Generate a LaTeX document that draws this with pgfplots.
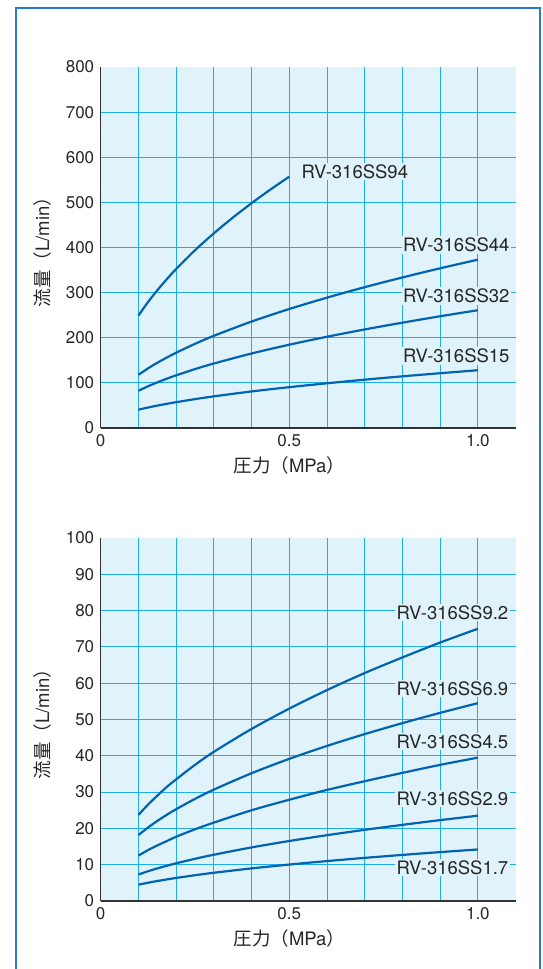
\documentclass[border=0pt]{standalone}
\usepackage{pgfplots}
\pgfplotsset{compat=1.18}
\usepackage{fontspec}
\setmainfont{TeX Gyre Heros}
\newfontfamily\cjk{Noto Sans CJK JP}
\definecolor{bgc}{RGB}{224,242,250}
\definecolor{gridc}{RGB}{30,175,232}
\definecolor{curvec}{RGB}{0,100,178}
\definecolor{framec}{RGB}{40,125,200}
\definecolor{axc}{RGB}{50,50,50}
\tikzset{
  lab/.style={anchor=base west, fill=bgc, inner sep=1.5pt, font=\fontsize{18.5}{21}\selectfont, text=black!85},
}
\pgfplotsset{
  flowaxis/.style={
    scale only axis, width=414.9pt,
    xmin=0, xmax=1.1,
    axis x line*=bottom, axis y line*=left,
    axis line style={axc, line width=1.3pt, -},
    axis background/.style={fill=bgc},
    xtick={0,0.5,1}, xticklabels={0,0.5,1.0},
    minor xtick={0.1,0.2,0.3,0.4,0.5,0.6,0.7,0.8,0.9,1.0},
    major tick length=0pt, minor tick length=0pt,
    grid=minor,
    minor grid style={gridc, line width=1pt},
    /pgf/number format/assume math mode=true,
    tick label style={font=\fontsize{17}{19}\selectfont, text=black!85},
    yticklabel style={xshift=-3pt},
    xticklabel style={yshift=-3pt},
    every axis plot post/.append style={curvec, line width=2.2pt, smooth, mark=none},
    xlabel={{\cjk 圧力（}MPa{\cjk ）}},
    ylabel={{\cjk 流量（}L/min{\cjk ）}},
    label style={font=\fontsize{18.5}{21}\selectfont, text=black!85},
    x label style={at={(axis description cs:0.4545,0)}, anchor=north, yshift=-25pt},
    y label style={at={(axis description cs:-0.1415,0.5)}, anchor=center},
    clip=false,
  },
}
\begin{document}
\begin{tikzpicture}[x=1pt,y=1pt]
\useasboundingbox (0,0) rectangle (543,969);
\draw[framec, line width=2pt] (15.6,-20) rectangle (540.4,961.4);
% top chart
\begin{axis}[flowaxis, at={(100.7pt,541pt)}, anchor=south west, height=361pt,
  ymin=0, ymax=800, ytick={0,100,...,800},
  minor ytick={100,200,...,700}]
\addplot coordinates {(0.1,249.1) (0.125,278.5) (0.15,305.1) (0.175,329.5) (0.2,352.3) (0.25,393.9) (0.3,431.4) (0.35,466.0) (0.4,498.2) (0.45,528.4) (0.5,557)};
\addplot coordinates {(0.1,117.9) (0.125,131.9) (0.15,144.5) (0.175,156.0) (0.2,166.8) (0.25,186.5) (0.3,204.3) (0.4,235.9) (0.5,263.7) (0.6,288.9) (0.7,312.1) (0.8,333.6) (0.9,353.9) (1.0,373)};
\addplot coordinates {(0.1,82.5) (0.125,92.3) (0.15,101.1) (0.175,109.2) (0.2,116.7) (0.25,130.5) (0.3,142.9) (0.4,165.1) (0.5,184.6) (0.6,202.2) (0.7,218.4) (0.8,233.4) (0.9,247.6) (1.0,261)};
\addplot coordinates {(0.1,40.5) (0.125,45.3) (0.15,49.6) (0.175,53.5) (0.2,57.2) (0.25,64) (0.3,70.1) (0.4,81) (0.5,90.5) (0.6,99.1) (0.7,107.1) (0.8,114.5) (0.9,121.4) (1.0,128)};
\node[lab] at (axis cs:0.528,553) {RV-316SS94};
\node[lab] at (axis cs:0.797,390.7) {RV-316SS44};
\node[lab] at (axis cs:0.797,277.7) {RV-316SS32};
\node[lab] at (axis cs:0.797,144.7) {RV-316SS15};
\end{axis}
% bottom chart
\begin{axis}[flowaxis, at={(100.7pt,68pt)}, anchor=south west, height=363pt,
  ymin=0, ymax=100, ytick={0,10,...,100},
  minor ytick={10,20,...,90}]
\addplot coordinates {(0.1,23.7) (0.125,26.5) (0.15,29.0) (0.175,31.4) (0.2,33.5) (0.25,37.5) (0.3,41.1) (0.4,47.4) (0.5,53.0) (0.6,58.1) (0.7,62.8) (0.8,67.1) (0.9,71.2) (1.0,75)};
\addplot coordinates {(0.1,18.17) (0.125,20.21) (0.15,22.05) (0.175,23.73) (0.2,25.29) (0.25,28.13) (0.3,30.69) (0.4,35.2) (0.5,39.16) (0.6,42.72) (0.7,45.98) (0.8,49.0) (0.9,51.83) (1.0,54.5)};
\addplot coordinates {(0.1,12.5) (0.125,14.0) (0.15,15.3) (0.175,16.5) (0.2,17.7) (0.25,19.75) (0.3,21.6) (0.4,25.0) (0.5,27.9) (0.6,30.6) (0.7,33.0) (0.8,35.3) (0.9,37.5) (1.0,39.5)};
\addplot coordinates {(0.1,7.3) (0.125,8.18) (0.15,8.97) (0.175,9.7) (0.2,10.38) (0.25,11.63) (0.3,12.75) (0.4,14.76) (0.5,16.53) (0.6,18.13) (0.7,19.61) (0.8,20.98) (0.9,22.28) (1.0,23.5)};
\addplot coordinates {(0.1,4.49) (0.125,5.02) (0.15,5.5) (0.175,5.94) (0.2,6.35) (0.25,7.1) (0.3,7.78) (0.4,8.98) (0.5,10.04) (0.6,11.0) (0.7,11.88) (0.8,12.7) (0.9,13.47) (1.0,14.2)};
\node[lab] at (axis cs:0.78,77.6) {RV-316SS9.2};
\node[lab] at (axis cs:0.78,56.7) {RV-316SS6.9};
\node[lab] at (axis cs:0.78,42.1) {RV-316SS4.5};
\node[lab] at (axis cs:0.78,26.4) {RV-316SS2.9};
\node[lab] at (axis cs:0.78,7.4) {RV-316SS1.7};
\end{axis}
\end{tikzpicture}
\end{document}
